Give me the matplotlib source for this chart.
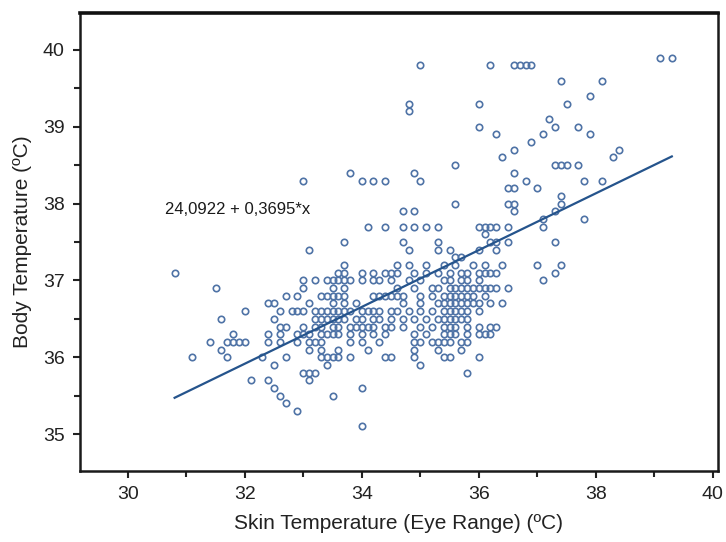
import matplotlib
matplotlib.use("Agg")
import matplotlib.pyplot as plt
from matplotlib.ticker import MultipleLocator
import numpy as np

plt.rcParams['font.family'] = ['Liberation Sans', 'DejaVu Sans']

# Body temperature levels (ºC) and the skin temperatures (ºC) observed at each level
body_levels = [39.9, 39.8, 39.6, 39.4, 39.3, 39.2, 39.1, 39.0, 38.9, 38.8, 38.7, 38.6,
               38.5, 38.4, 38.3, 38.2, 38.1, 38.0, 37.9, 37.8, 37.7, 37.6, 37.5, 37.4,
               37.3, 37.2, 37.1, 37.0, 36.9, 36.8, 36.7, 36.6, 36.5, 36.4, 36.3, 36.2,
               36.1, 36.0, 35.9, 35.8, 35.7, 35.6, 35.5, 35.4, 35.3, 35.1]

skin_at_level = [
    [39.1, 39.3],
    [35.0, 36.2, 36.6, 36.7, 36.8, 36.9],
    [37.4, 38.1],
    [37.9],
    [34.8, 36.0, 37.5],
    [34.8],
    [37.2],
    [36.0, 37.3, 37.7],
    [36.3, 37.1, 37.9],
    [36.9],
    [36.6, 38.4],
    [36.4, 38.3],
    [35.6, 37.3, 37.4, 37.5, 37.7],
    [33.8, 34.9, 36.6],
    [33.0, 34.0, 34.2, 34.4, 35.0, 36.8, 37.8, 38.1],
    [36.5, 36.6, 37.0],
    [37.4],
    [35.6, 36.5, 36.6, 37.4],
    [34.7, 34.9, 36.6, 37.3],
    [37.1, 37.8],
    [34.1, 34.4, 34.7, 34.9, 35.1, 35.3, 36.0, 36.1, 36.2, 36.3, 36.5, 37.1],
    [36.1],
    [33.7, 34.7, 35.3, 36.2, 36.3, 36.5, 37.3],
    [33.1, 34.8, 35.3, 35.5, 36.0, 36.3],
    [35.6, 35.7],
    [33.7, 34.6, 34.8, 35.1, 35.4, 35.6, 35.9, 36.1, 36.4, 37.0, 37.4],
    [30.8, 33.6, 33.7, 34.0, 34.2, 34.4, 34.5, 34.6, 34.9, 35.1, 35.3, 35.5, 35.7,
     35.8, 36.0, 36.1, 36.2, 36.3, 37.3],
    [33.0, 33.2, 33.4, 33.5, 33.6, 33.7, 33.8, 34.0, 34.2, 34.3, 34.5, 34.8, 35.0,
     35.4, 35.5, 35.7, 35.8, 36.0, 37.1],
    [31.5, 33.0, 33.5, 33.7, 34.6, 34.9, 35.2, 35.3, 35.5, 35.6, 35.7, 35.8, 35.9,
     36.0, 36.1, 36.2, 36.3, 36.5],
    [32.7, 32.9, 33.3, 33.4, 33.5, 33.6, 33.7, 34.2, 34.3, 34.4, 34.5, 34.6, 34.7,
     35.0, 35.2, 35.4, 35.5, 35.6, 35.7, 35.8, 35.9, 36.1],
    [32.4, 32.5, 33.1, 33.5, 33.7, 33.9, 34.7, 35.0, 35.3, 35.4, 35.5, 35.6, 35.7,
     35.8, 35.9, 36.0, 36.2, 36.4],
    [32.0, 32.6, 32.8, 32.9, 33.0, 33.2, 33.3, 33.4, 33.5, 33.6, 33.7, 33.8, 34.0,
     34.1, 34.2, 34.3, 34.5, 34.6, 34.8, 35.0, 35.2, 35.4, 35.5, 35.6, 35.7, 35.8, 36.0],
    [31.6, 32.5, 33.2, 33.3, 33.4, 33.5, 33.6, 33.7, 33.9, 34.0, 34.2, 34.3, 34.5,
     34.7, 34.9, 35.1, 35.3, 35.4, 35.5, 35.6, 35.7, 35.8],
    [32.6, 32.7, 33.0, 33.2, 33.3, 33.5, 33.6, 33.8, 33.9, 34.0, 34.1, 34.2, 34.4,
     34.5, 34.7, 35.0, 35.2, 35.4, 35.5, 35.6, 35.8, 36.0, 36.2, 36.3],
    [31.8, 32.4, 32.6, 32.9, 33.0, 33.1, 33.3, 33.4, 33.5, 33.6, 33.8, 34.0, 34.2,
     34.4, 34.9, 35.1, 35.4, 35.5, 35.6, 35.8, 36.0, 36.1, 36.2],
    [31.4, 31.7, 31.8, 31.9, 32.0, 32.4, 32.6, 32.9, 33.1, 33.2, 33.3, 33.8, 34.0,
     34.3, 34.9, 35.0, 35.2, 35.3, 35.4, 35.5, 35.7, 35.8],
    [31.6, 33.1, 33.3, 33.6, 34.1, 34.9, 35.3, 35.7],
    [31.1, 31.7, 32.3, 32.7, 33.3, 33.4, 33.5, 33.6, 33.8, 34.4, 34.5, 34.9, 35.4,
     35.5, 36.0],
    [32.5, 33.4, 35.0],
    [33.0, 33.1, 33.2, 35.8],
    [32.1, 32.4, 33.1],
    [32.5, 34.0],
    [32.6, 33.5],
    [32.7],
    [32.9],
    [34.0],
]

# Linear fit reported on the chart
intercept = 24.0922
slope = 0.3695
fit_range = [30.8, 39.3]

x_ticks = [30, 32, 34, 36, 38, 40]
y_ticks = [35, 36, 37, 38, 39, 40]

skin = np.concatenate([np.asarray(xs, dtype=float) for xs in skin_at_level])
body = np.concatenate([np.full(len(xs), lvl) for lvl, xs in zip(body_levels, skin_at_level)])

fig = plt.figure(figsize=(7.26, 5.42), dpi=100)
ax = fig.add_axes([0.110, 0.131, 0.879, 0.845])

ax.plot(skin, body, linestyle='none', marker='o', markersize=4.6,
        markerfacecolor='none', markeredgecolor='#4f73a6', markeredgewidth=1.2)

fx = np.array(fit_range)
ax.plot(fx, intercept + slope * fx, color='#25548c', linewidth=1.6)

ax.text(30.63, 37.92, '24,0922 + 0,3695*x', fontsize=12, va='center', ha='left',
        color='#1a1a1a')

ax.set_xlim(29.18, 40.09)
ax.set_ylim(34.52, 40.48)
ax.set_xticks(x_ticks)
ax.set_yticks(y_ticks)
ax.xaxis.set_minor_locator(MultipleLocator(1))
ax.yaxis.set_minor_locator(MultipleLocator(0.5))

ax.tick_params(which='major', direction='out', length=5, width=1.5,
               labelsize=14, colors='#222222', pad=6)
ax.tick_params(which='minor', direction='out', length=4, width=1.5, colors='#222222')

for side in ['left', 'bottom', 'right']:
    ax.spines[side].set_linewidth(1.8)
    ax.spines[side].set_color('#1a1a1a')
ax.spines['top'].set_linewidth(2.6)
ax.spines['top'].set_color('#111111')

ax.set_xlabel('Skin Temperature (Eye Range) (ºC)', fontsize=15, color='#222222', labelpad=8)
ax.set_ylabel('Body Temperature (ºC)', fontsize=15, color='#222222', labelpad=8)

fig.savefig('out.png', dpi=100, facecolor='white')
